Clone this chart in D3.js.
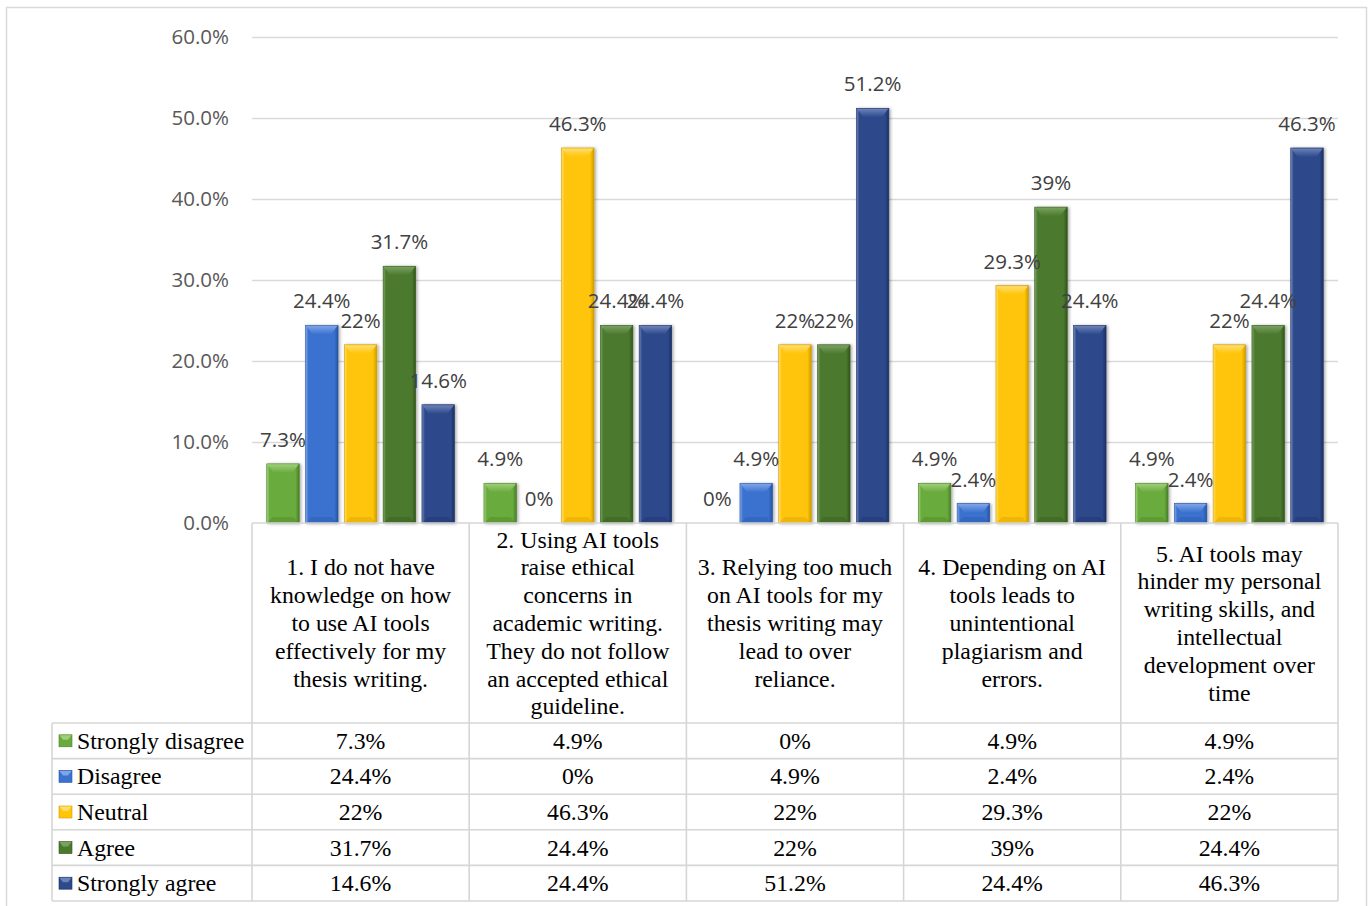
<!DOCTYPE html>
<html>
<head>
<meta charset="utf-8">
<script src="https://cdn.jsdelivr.net/npm/d3@7/dist/d3.min.js"></script>
<style>
  html, body { margin: 0; padding: 0; background: #fff; }
  svg { display: block; }
</style>
</head>
<body>
<svg id="chart" width="1371" height="906"></svg>
<script>
// Survey statements (one array of wrapped lines per statement)
const categories = [
  ["1. I do not have", "knowledge on how", "to use AI tools", "effectively for my", "thesis writing."],
  ["2. Using AI tools", "raise ethical", "concerns in", "academic writing.", "They do not follow", "an accepted ethical", "guideline."],
  ["3. Relying too much", "on AI tools for my", "thesis writing may", "lead to over", "reliance."],
  ["4. Depending on AI", "tools leads to", "unintentional", "plagiarism and", "errors."],
  ["5. AI tools may", "hinder my personal", "writing skills, and", "intellectual", "development over", "time"]
];

const seriesNames = ["Strongly disagree", "Disagree", "Neutral", "Agree", "Strongly agree"];

// Percentages per response level, one value per statement
const stronglyDisagree = [7.3, 4.9, 0, 4.9, 4.9];
const disagree         = [24.4, 0, 4.9, 2.4, 2.4];
const neutral          = [22, 46.3, 22, 29.3, 22];
const agree            = [31.7, 24.4, 22, 39, 24.4];
const stronglyAgree    = [14.6, 24.4, 51.2, 24.4, 46.3];

const yTicks = [0, 10, 20, 30, 40, 50, 60];

const seriesValues = [stronglyDisagree, disagree, neutral, agree, stronglyAgree];

// Colour sets per series: base face, light bevel, dark edge
const palette = [
  { base: "#6aab3d", light: "#a3d37f", dark: "#4a7f28" },
  { base: "#3a72d0", light: "#86aaea", dark: "#2654a3" },
  { base: "#ffc507", light: "#ffe07a", dark: "#cf9c00" },
  { base: "#4b7a2d", light: "#7fa566", dark: "#32561c" },
  { base: "#2d4a8b", light: "#7388bd", dark: "#1b3064" }
];

const fmt = v => (Math.round(v * 10) / 10) + "%";

const svg = d3.select("#chart");
const defs = svg.append("defs");

// Layout
const plotLeft = 252, plotRight = 1338, plotTop = 37, plotBottom = 523;
const tableTop = 523, headerBottom = 723, rowH = 35.6, legendLeft = 52;

// Chart frame
svg.append("rect")
  .attr("x", 6.5).attr("y", 7.5).attr("width", 1360).attr("height", 910)
  .attr("fill", "#fff").attr("stroke", "#d9d9d9").attr("stroke-width", 1.5);

const x0 = d3.scaleBand().domain(d3.range(categories.length)).range([plotLeft, plotRight]).padding(0);
const x1 = d3.scaleBand().domain(d3.range(seriesNames.length)).range([0, x0.bandwidth()])
  .paddingInner(0.162).paddingOuter(0.38);
const y = d3.scaleLinear().domain([0, 60]).range([plotBottom, plotTop]);

// Gridlines
svg.append("g").selectAll("line").data(yTicks.filter(t => t > 0)).join("line")
  .attr("x1", plotLeft).attr("x2", plotRight)
  .attr("y1", d => y(d) + 0.5).attr("y2", d => y(d) + 0.5)
  .attr("stroke", "#d9d9d9").attr("stroke-width", 1.3);

// Y axis labels
const yAxis = d3.axisLeft(y).tickValues(yTicks).tickSize(0).tickPadding(23)
  .tickFormat(d => d.toFixed(1) + "%");
const yg = svg.append("g").attr("transform", `translate(${plotLeft},0)`).call(yAxis);
yg.select(".domain").remove();
yg.selectAll("text")
  .attr("fill", "#595959")
  .style("font-family", "'Open Sans', sans-serif")
  .style("font-size", "20.5px");

// Gradients and shadow for bevelled bars
palette.forEach((p, i) => {
  const g = defs.append("linearGradient").attr("id", "face" + i).attr("x1", 0).attr("x2", 1).attr("y1", 0).attr("y2", 0);
  g.append("stop").attr("offset", "0%").attr("stop-color", p.light);
  g.append("stop").attr("offset", "9%").attr("stop-color", p.base);
  g.append("stop").attr("offset", "88%").attr("stop-color", p.base);
  g.append("stop").attr("offset", "100%").attr("stop-color", p.dark);
  const t = defs.append("linearGradient").attr("id", "top" + i).attr("x1", 0).attr("x2", 0).attr("y1", 0).attr("y2", 1);
  t.append("stop").attr("offset", "0%").attr("stop-color", p.light);
  t.append("stop").attr("offset", "100%").attr("stop-color", p.base);
});
const shadow = defs.append("filter").attr("id", "shadow").attr("x", "-30%").attr("y", "-10%").attr("width", "160%").attr("height", "120%");
shadow.append("feDropShadow").attr("dx", 1.5).attr("dy", 0.5).attr("stdDeviation", 1.6)
  .attr("flood-color", "#000").attr("flood-opacity", 0.35);

// Flattened data for bars
const barData = [];
categories.forEach((c, ci) => {
  seriesValues.forEach((vals, si) => {
    barData.push({ ci, si, v: vals[ci] });
  });
});

const bw = x1.bandwidth();
const bars = svg.append("g").selectAll("g.bar").data(barData.filter(d => d.v > 0)).join("g").attr("class", "bar");

bars.append("rect")
  .attr("x", d => x0(d.ci) + x1(d.si))
  .attr("y", d => y(d.v))
  .attr("width", bw)
  .attr("height", d => y(0) - y(d.v))
  .attr("fill", d => `url(#face${d.si})`)
  .attr("stroke", d => palette[d.si].dark)
  .attr("stroke-width", 0.6)
  .attr("filter", "url(#shadow)");

// Top bevel facet
bars.append("polygon")
  .attr("points", d => {
    const xl = x0(d.ci) + x1(d.si), xr = xl + bw, yt = y(d.v);
    const depth = Math.min(9, (y(0) - yt) / 2), inset = 7;
    return [[xl + 0.5, yt + 0.5], [xr - 0.5, yt + 0.5], [xr - inset, yt + depth], [xl + inset, yt + depth]].join(" ");
  })
  .attr("fill", d => `url(#top${d.si})`)
  .attr("opacity", 0.9);

// Bottom bevel shading
bars.append("polygon")
  .attr("points", d => {
    const xl = x0(d.ci) + x1(d.si), xr = xl + bw, yb = y(0);
    const depth = Math.min(6, (yb - y(d.v)) / 3), inset = 6;
    return [[xl + 0.5, yb], [xr - 0.5, yb], [xr - inset, yb - depth], [xl + inset, yb - depth]].join(" ");
  })
  .attr("fill", d => palette[d.si].dark)
  .attr("opacity", 0.35);

// Data labels
svg.append("g").selectAll("text").data(barData).join("text")
  .attr("x", d => x0(d.ci) + x1(d.si) + bw / 2)
  .attr("y", d => y(d.v) - 17)
  .attr("text-anchor", "middle")
  .attr("fill", "#404040")
  .style("font-family", "'Open Sans', sans-serif")
  .style("font-size", "20.5px")
  .text(d => fmt(d.v));

// ---- Data table ----
const tbl = svg.append("g");
const lineColor = "#d6d6d6";
const tableW = 1.6;

// horizontal lines
tbl.append("line").attr("x1", plotLeft).attr("x2", plotRight).attr("y1", tableTop).attr("y2", tableTop)
  .attr("stroke", lineColor).attr("stroke-width", tableW);
const rowLines = d3.range(seriesNames.length + 1).map(i => headerBottom + i * rowH);
tbl.selectAll("line.h").data(rowLines).join("line").attr("class", "h")
  .attr("x1", legendLeft).attr("x2", plotRight)
  .attr("y1", d => d).attr("y2", d => d)
  .attr("stroke", lineColor).attr("stroke-width", tableW);

// vertical lines
const colLines = d3.range(categories.length + 1).map(i => plotLeft + i * x0.step());
tbl.selectAll("line.v").data(colLines).join("line").attr("class", "v")
  .attr("x1", d => d).attr("x2", d => d)
  .attr("y1", tableTop).attr("y2", rowLines[rowLines.length - 1])
  .attr("stroke", lineColor).attr("stroke-width", tableW);
tbl.append("line").attr("x1", legendLeft).attr("x2", legendLeft)
  .attr("y1", headerBottom).attr("y2", rowLines[rowLines.length - 1])
  .attr("stroke", lineColor).attr("stroke-width", tableW);

const serif = "'Liberation Serif', 'Times New Roman', serif";
const lineH = 27.8;
const tableFont = "23.8px";

// header cells with statement text
categories.forEach((lines, ci) => {
  const cx = x0(ci) + x0.bandwidth() / 2;
  const midY = (tableTop + headerBottom) / 2;
  const startY = midY - (lines.length - 1) * lineH / 2;
  tbl.append("g").selectAll("text").data(lines).join("text")
    .attr("x", cx)
    .attr("y", (d, i) => startY + i * lineH + 8)
    .attr("text-anchor", "middle")
    .attr("fill", "#000")
    .style("font-family", serif)
    .style("font-size", tableFont)
    .text(d => d);
});

// legend keys and row labels
seriesNames.forEach((name, si) => {
  const cy = headerBottom + si * rowH + rowH / 2;
  const p = palette[si];
  tbl.append("rect").attr("x", 59).attr("y", cy - 6).attr("width", 13).attr("height", 12)
    .attr("fill", p.base).attr("stroke", p.dark).attr("stroke-width", 0.6);
  tbl.append("polygon")
    .attr("points", [[59.5, cy - 5.5], [71.5, cy - 5.5], [68, cy - 1], [63, cy - 1]].join(" "))
    .attr("fill", p.light).attr("opacity", 0.9);
  tbl.append("text").attr("x", 77).attr("y", cy + 8)
    .attr("fill", "#000")
    .style("font-family", serif).style("font-size", tableFont)
    .text(name);

  tbl.append("g").selectAll("text").data(seriesValues[si]).join("text")
    .attr("x", (d, ci) => x0(ci) + x0.bandwidth() / 2)
    .attr("y", cy + 8)
    .attr("text-anchor", "middle")
    .attr("fill", "#000")
    .style("font-family", serif).style("font-size", tableFont)
    .text(d => fmt(d));
});
</script>
</body>
</html>
